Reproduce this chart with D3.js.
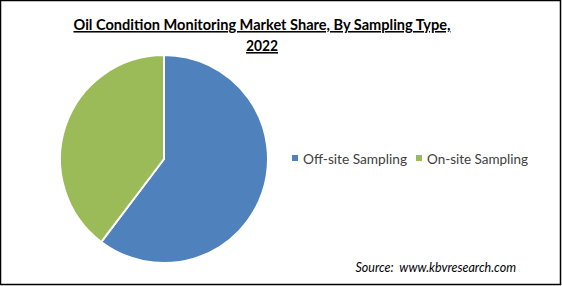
<!DOCTYPE html>
<html>
<head>
<meta charset="utf-8">
<script src="https://cdn.jsdelivr.net/npm/d3@7"></script>
<style>
  html, body { margin: 0; padding: 0; background: #fff; }
  svg { display: block; }
</style>
</head>
<body>
<div id="chart"></div>
<script>
// chart data
var categories = ['Off-site Sampling', 'On-site Sampling'];
var shares = [60.3, 39.7];
var colors = ['#4f81bd', '#9bbb59'];
var titleLines = ['Oil Condition Monitoring Market Share, By Sampling Type,', '2022'];
var sourceText = 'Source:  www.kbvresearch.com';

var width = 562, height = 286;
var svg = d3.select('#chart').append('svg')
    .attr('width', width)
    .attr('height', height);

svg.append('rect')
    .attr('x', 0.5).attr('y', 0.5)
    .attr('width', width - 2).attr('height', height - 2)
    .attr('fill', '#fff')
    .attr('stroke', '#000')
    .attr('stroke-width', 1.5);

// title (Calibri-like width squeezed with textLength)
var titleWidths = [377, 32];
var title = svg.append('g').attr('font-family', 'Lato, Carlito, sans-serif')
    .attr('font-weight', 'bold').attr('font-size', 15.5).attr('fill', '#000');
titleLines.forEach(function (t, i) {
    title.append('text')
        .attr('x', 262)
        .attr('y', 30 + i * 21)
        .attr('text-anchor', 'middle')
        .attr('text-decoration', 'underline')
        .attr('textLength', titleWidths[i])
        .attr('lengthAdjust', 'spacingAndGlyphs')
        .text(t);
});

// pie
var cx = 164, cy = 159, r = 104;
var pie = d3.pie().sort(null).value(function (d) { return d; });
var arc = d3.arc().innerRadius(0).outerRadius(r);
var g = svg.append('g').attr('transform', 'translate(' + cx + ',' + cy + ')');
g.selectAll('path')
    .data(pie(shares))
    .enter()
    .append('path')
    .attr('d', arc)
    .attr('fill', function (d, i) { return colors[i]; })
    .attr('stroke', '#fff')
    .attr('stroke-width', 2);

// legend
var legend = svg.append('g').attr('font-family', 'Lato, Carlito, sans-serif')
    .attr('font-size', 14).attr('fill', '#404040');
var lx = [292, 416];
var lw = [104, 101];
categories.forEach(function (c, i) {
    legend.append('rect')
        .attr('x', lx[i]).attr('y', 155)
        .attr('width', 6).attr('height', 6)
        .attr('fill', colors[i]);
    legend.append('text')
        .attr('x', lx[i] + 11).attr('y', 163.5)
        .attr('textLength', lw[i])
        .attr('lengthAdjust', 'spacingAndGlyphs')
        .text(c);
});

// source
svg.append('text')
    .attr('x', 516).attr('y', 272)
    .attr('text-anchor', 'end')
    .attr('font-family', 'Lato, Carlito, sans-serif')
    .attr('font-style', 'italic')
    .attr('font-size', 12.5)
    .attr('fill', '#000')
    .attr('xml:space', 'preserve')
    .text(sourceText);
</script>
</body>
</html>
